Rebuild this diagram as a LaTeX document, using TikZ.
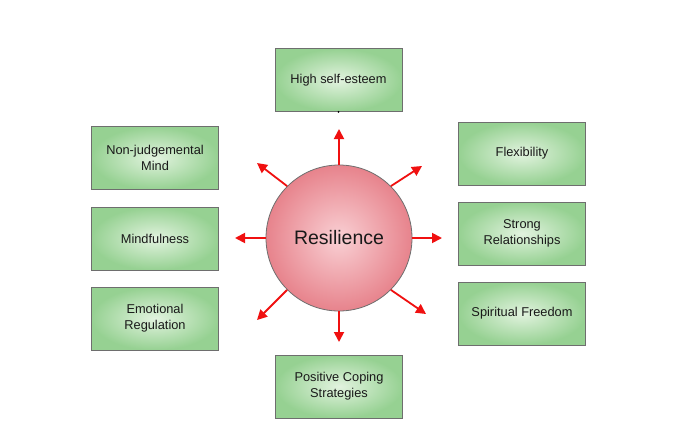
\documentclass[tikz,border=0pt]{standalone}
\usepackage{fontspec}
\setmainfont{Liberation Sans}
\usetikzlibrary{arrows.meta}
\definecolor{boxedge}{HTML}{6E6E6E}
\definecolor{boxin}{HTML}{E2F3DF}
\definecolor{boxout}{HTML}{96D192}
\definecolor{circin}{HTML}{F9D0D4}
\definecolor{circout}{HTML}{E7838C}
\definecolor{arr}{HTML}{F01010}
\begin{document}
\begin{tikzpicture}[x=1pt,y=-1pt,
  quality/.style={draw=boxedge, line width=0.9pt, inner color=boxin, outer color=boxout,
    minimum width=127pt, minimum height=63pt, align=center, font=\fontsize{12.8}{16}\selectfont, text=black!90},
  core/.style={circle, draw=boxedge, line width=0.8pt, inner color=circin, outer color=circout,
    minimum size=146pt, font=\fontsize{19.5}{22}\selectfont, text=black!90},
  ray/.style={draw=arr, line width=1.8pt, -{Triangle[length=10pt,width=10pt]}}]
\useasboundingbox (0,0) rectangle (690,447);
\fill[white] (0,0) rectangle (690,447);

\node[core] (res) at (339,238) {Resilience};

\node[quality] (hse) at (338.5,80) {High self-esteem};
\node[quality] (njm) at (155,158) {Non-judgemental\\Mind};
\node[quality] (mind) at (155,238.5) {Mindfulness};
\node[quality] (emo) at (155,318.5) {Emotional\\Regulation};
\node[quality] (flex) at (522,153.5) {Flexibility};
\node[quality] (rel) at (522,233.5) {Strong\\Relationships};
\node[quality] (spir) at (522,313.5) {Spiritual Freedom};
\node[quality] (pcs) at (339,386.5) {Positive Coping\\Strategies};

\fill[black] (hse.south) circle (1pt);

\coordinate (tN) at (339,129);
\coordinate (tS) at (339,342);
\coordinate (tW) at (235,238);
\coordinate (tE) at (442,238);
\coordinate (tNW) at (257,163);
\coordinate (tNE) at (422,166);
\coordinate (tSW) at (257,320);
\coordinate (tSE) at (426,314);

\draw[ray] (res.north) -- (tN);
\draw[ray] (res.south) -- (tS);
\draw[ray] (res.west) -- (tW);
\draw[ray] (res.east) -- (tE);
\draw[ray] (res.135) -- (tNW);
\draw[ray] (res.45) -- (tNE);
\draw[ray] (res.225) -- (tSW);
\draw[ray] (res.315) -- (tSE);
\end{tikzpicture}
\end{document}
